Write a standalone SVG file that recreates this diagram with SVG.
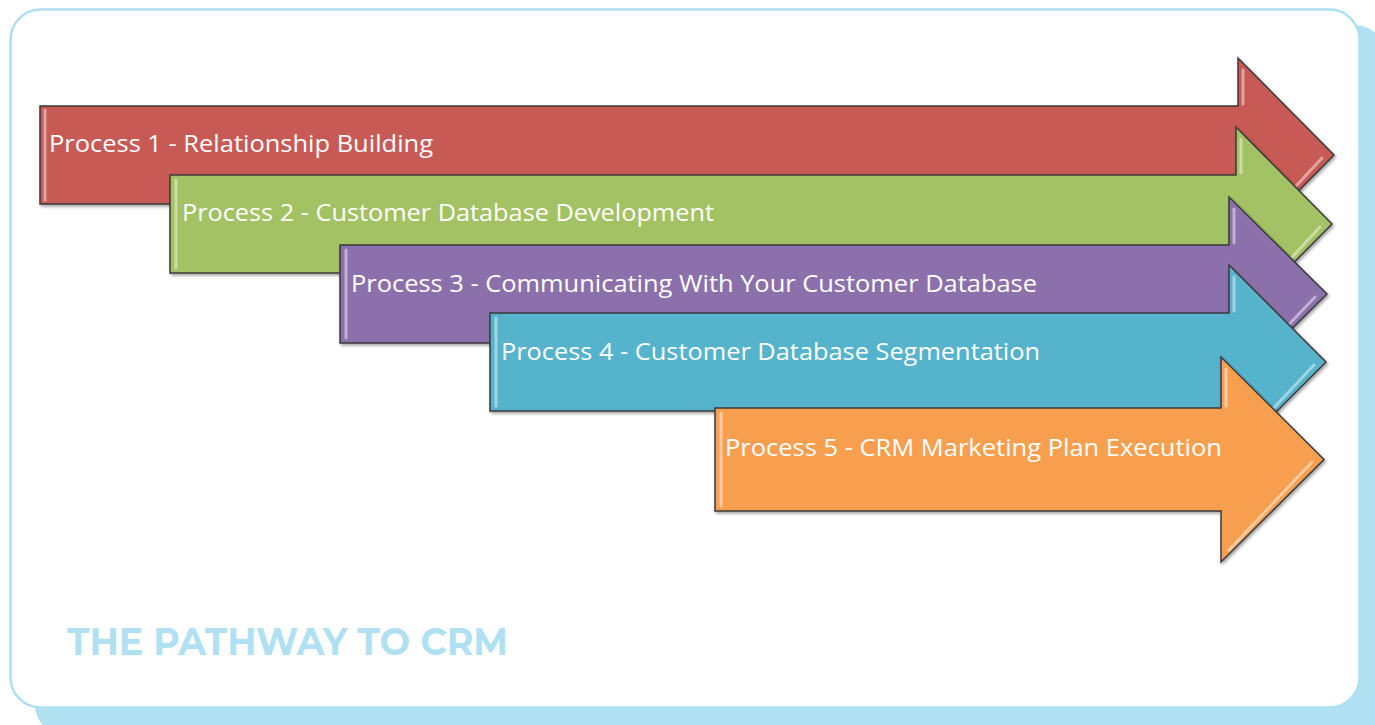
<svg xmlns="http://www.w3.org/2000/svg" width="1375" height="725" viewBox="0 0 1375 725">
<style>
.arrow{stroke:#3a3a3a;stroke-width:1.5;stroke-linejoin:miter;filter:url(#sh)}
.hl{fill:none;stroke:#ffffff;stroke-opacity:0.45;stroke-width:3;stroke-linecap:round}
.lbl{font-family:"Open Sans","DejaVu Sans",sans-serif;font-size:24px;fill:#ffffff}
.title{font-family:"Montserrat","Liberation Sans",Arial,sans-serif;font-weight:bold;font-size:38px;fill:#b0e1f2}
</style>
<defs>
<filter id="sh" x="-5%" y="-20%" width="110%" height="140%">
<feDropShadow dx="1.5" dy="2" stdDeviation="1.8" flood-color="#000" flood-opacity="0.35"/>
</filter>
</defs>
<rect x="35" y="25" width="1350" height="710" rx="30" fill="#b0e1f2"/>
<rect x="10.5" y="9.5" width="1349" height="698" rx="30" fill="#ffffff" stroke="#aee0f2" stroke-width="2.5"/>

<g id="arrow1">
<path class="arrow" fill="#c85a56" d="M40 106 L1238 106 L1238 58 L1334 155 L1238 252 L1238 204 L40 204 Z"/>
<path class="hl" d="M45 110 L45 200 M1243 70 L1243 104 M1246 240 L1322 158"/>
<text class="lbl" x="49" y="152" textLength="384" lengthAdjust="spacingAndGlyphs">Process 1 - Relationship Building</text>
</g>
<g id="arrow2">
<path class="arrow" fill="#a3c263" d="M170 175 L1236 175 L1236 127 L1332 224 L1236 321 L1236 273 L170 273 Z"/>
<path class="hl" d="M176 180 L176 268 M1241 139 L1241 173 M1244 309 L1320 227"/>
<text class="lbl" x="182" y="221" textLength="532" lengthAdjust="spacingAndGlyphs">Process 2 - Customer Database Development</text>
</g>
<g id="arrow3">
<path class="arrow" fill="#8c6fab" d="M340 245 L1229 245 L1229 197 L1327 294 L1229 391 L1229 343 L340 343 Z"/>
<path class="hl" d="M346 250 L346 338 M1234 209 L1234 243 M1237 379 L1315 297"/>
<text class="lbl" x="351" y="292" textLength="686" lengthAdjust="spacingAndGlyphs">Process 3 - Communicating With Your Customer Database</text>
</g>
<g id="arrow4">
<path class="arrow" fill="#55b3cc" d="M490 313 L1229 313 L1229 265 L1326 362 L1229 459 L1229 411 L490 411 Z"/>
<path class="hl" d="M496 318 L496 406 M1234 277 L1234 311 M1237 447 L1314 365"/>
<text class="lbl" x="501" y="360" textLength="539" lengthAdjust="spacingAndGlyphs">Process 4 - Customer Database Segmentation</text>
</g>
<g id="arrow5">
<path class="arrow" fill="#f79f4f" d="M715 408 L1221 408 L1221 357 L1324 459.5 L1221 562 L1221 511 L715 511 Z"/>
<path class="hl" d="M721 413 L721 506 M1226 369 L1226 406 M1229 550 L1312 462"/>
<text class="lbl" x="725" y="456" textLength="497" lengthAdjust="spacingAndGlyphs">Process 5 - CRM Marketing Plan Execution</text>
</g>

<text class="title" x="67" y="655" textLength="441" lengthAdjust="spacingAndGlyphs">THE PATHWAY TO CRM</text>
</svg>
